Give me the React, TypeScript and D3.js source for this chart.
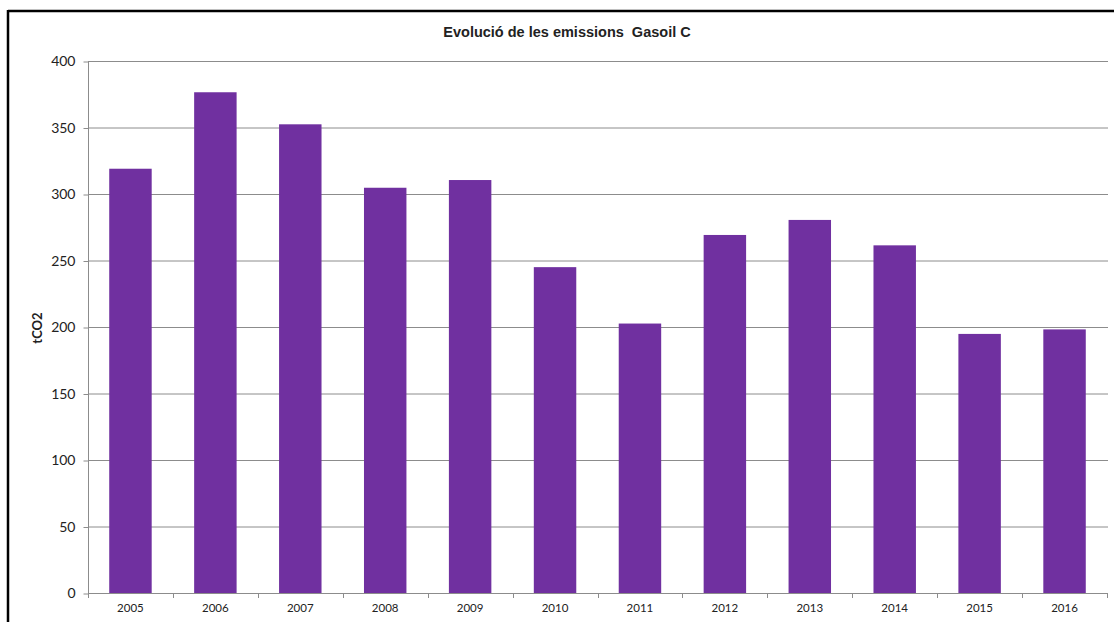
import React, { useEffect, useRef } from "react";
import * as d3 from "d3";

const years = ["2005","2006","2007","2008","2009","2010","2011","2012","2013","2014","2015","2016"];
const emissions = [319, 376.5, 352.4, 304.7, 310.5, 245, 202.6, 269.2, 280.5, 261.4, 194.8, 198.2];
const yTicks = [0, 50, 100, 150, 200, 250, 300, 350, 400];
const title = "Evolució de les emissions  Gasoil C";
const yTitle = "tCO2";

export default function App() {
  const ref = useRef<SVGSVGElement>(null);
  useEffect(() => {
    const svg = d3.select(ref.current);
    svg.selectAll("*").remove();
    const W = 1114, H = 622;
    const left = 88, right = 1107, top = 61, bottom = 593;
    svg.append("rect").attr("width", W).attr("height", H).attr("fill", "#fff");
    // frame
    svg.append("line").attr("x1", 8).attr("x2", W).attr("y1", 11).attr("y2", 11).attr("stroke", "#000").attr("stroke-width", 2.5);
    svg.append("line").attr("x1", 8).attr("x2", 8).attr("y1", 10).attr("y2", H).attr("stroke", "#000").attr("stroke-width", 2.5);

    const x = d3.scaleBand<string>().domain(years).range([left, right]).paddingInner(0.5).paddingOuter(0.25);
    const y = d3.scaleLinear().domain([0, 400]).range([bottom, top]);

    const g = svg.append("g");
    // gridlines
    g.selectAll("line.grid").data(yTicks.filter(t => t > 0)).enter().append("line")
      .attr("x1", left).attr("x2", right + 1).attr("y1", d => y(d) + 0.5).attr("y2", d => y(d) + 0.5)
      .attr("stroke", "#8c8c8c").attr("stroke-width", 1);
    // bars
    g.selectAll("rect.bar").data(emissions).enter().append("rect")
      .attr("x", (_, i) => x(years[i])!).attr("width", x.bandwidth())
      .attr("y", d => y(d)).attr("height", d => bottom - y(d))
      .attr("fill", "#7030A0");
    // y axis
    const yAxis = d3.axisLeft(y).tickValues(yTicks).tickSize(5).tickPadding(8).tickFormat(d3.format("d"));
    const ya = svg.append("g").attr("transform", `translate(${left + 0.5},0.5)`).call(yAxis);
    ya.select(".domain").attr("stroke", "#8c8c8c").attr("d", `M0,${top}V${bottom}`);
    ya.selectAll(".tick line").attr("stroke", "#8c8c8c");
    ya.selectAll(".tick text").attr("font-family", "Lato, 'Open Sans', sans-serif").attr("font-size", 14).attr("fill", "#222");
    // x axis
    const bounds = d3.range(years.length + 1).map(i => left + i * (right - left) / years.length);
    const xa = svg.append("g");
    xa.append("line").attr("x1", left).attr("x2", right).attr("y1", bottom + 0.5).attr("y2", bottom + 0.5).attr("stroke", "#8c8c8c");
    xa.selectAll("line.t").data(bounds).enter().append("line")
      .attr("x1", d => Math.round(d) + 0.5).attr("x2", d => Math.round(d) + 0.5)
      .attr("y1", bottom).attr("y2", bottom + 5).attr("stroke", "#8c8c8c");
    xa.selectAll("text").data(years).enter().append("text")
      .attr("x", d => x(d)! + x.bandwidth() / 2).attr("y", 612)
      .attr("text-anchor", "middle").attr("font-family", "Lato, 'Open Sans', sans-serif").attr("font-size", 11.5)
      .attr("fill", "#222").text(d => d);
    // title
    svg.append("text").attr("x", 567).attr("y", 37).attr("text-anchor", "middle")
      .style("white-space", "pre")
      .attr("font-family", "'Liberation Sans', Arial, sans-serif").attr("font-weight", "bold").attr("font-size", 14.5)
      .attr("fill", "#222").text(title);
    // y title
    svg.append("text").attr("transform", `translate(42,328) rotate(-90)`).attr("text-anchor", "middle")
      .attr("font-family", "Lato, 'Open Sans', sans-serif").attr("font-weight", "bold").attr("font-size", 13)
      .attr("fill", "#222").text(yTitle);
  }, []);
  return (
    <svg ref={ref} width={1114} height={622} style={{ position: "absolute", left: 0, top: 0, display: "block" }} />
  );
}
